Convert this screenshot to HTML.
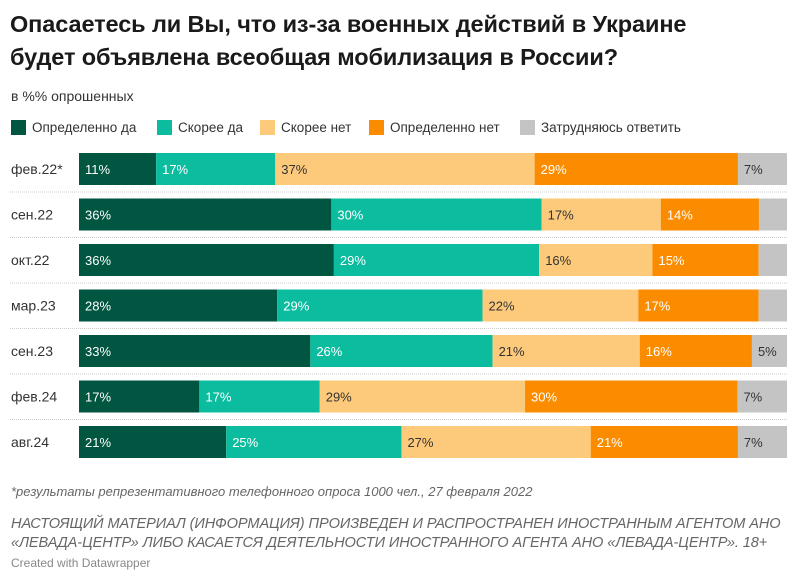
<!DOCTYPE html>
<html><head><meta charset="utf-8"><style>
body{margin:0;background:#fff;width:800px;height:584px;overflow:hidden;font-family:"Liberation Sans",sans-serif;color:#222}
.t{position:absolute;left:10px;top:8px;font-size:23.5px;font-weight:bold;line-height:33px;letter-spacing:-0.1px;color:#1a1a1a}
.s{position:absolute;left:11px;top:88px;font-size:14px;color:#333}
.lg{position:absolute;top:120px;font-size:13.5px;display:flex;align-items:center;color:#333}
.lg i{display:inline-block;width:15px;height:15px;margin-right:6px}
.f{position:absolute;left:11px;font-style:italic;color:#666;font-size:13px}
</style></head><body>
<div class="t">Опасаетесь ли Вы, что из-за военных действий в Украине<br>будет объявлена всеобщая мобилизация в России?</div>
<div class="s">в %% опрошенных</div>
<div class="lg" style="left:11px"><i style="background:#015641"></i>Определенно да</div>
<div class="lg" style="left:157px"><i style="background:#0cbc9f"></i>Скорее да</div>
<div class="lg" style="left:260px"><i style="background:#fdc97a"></i>Скорее нет</div>
<div class="lg" style="left:369px"><i style="background:#fb8c00"></i>Определенно нет</div>
<div class="lg" style="left:520px"><i style="background:#c4c4c4"></i>Затрудняюсь ответить</div>
<svg id="c" width="800" height="584" style="position:absolute;left:0;top:0"></svg>
<div class="f" style="top:484px">*результаты репрезентативного телефонного опроса 1000 чел., 27 февраля 2022</div>
<div class="f" style="top:515px;line-height:19px;font-size:14.6px;letter-spacing:-0.1px;white-space:nowrap">НАСТОЯЩИЙ МАТЕРИАЛ (ИНФОРМАЦИЯ) ПРОИЗВЕДЕН И РАСПРОСТРАНЕН ИНОСТРАННЫМ АГЕНТОМ АНО<br>«ЛЕВАДА-ЦЕНТР» ЛИБО КАСАЕТСЯ ДЕЯТЕЛЬНОСТИ ИНОСТРАННОГО АГЕНТА АНО «ЛЕВАДА-ЦЕНТР». 18+</div>
<div class="f" style="top:556px;font-style:normal;font-size:12px;color:#888">Created with Datawrapper</div>
<script>
const categories=["фев.22*","сен.22","окт.22","мар.23","сен.23","фев.24","авг.24"];
const defYes=[11,36,36,28,33,17,21];
const ratherYes=[17,30,29,29,26,17,25];
const ratherNo=[37,17,16,22,21,29,27];
const defNo=[29,14,15,17,16,30,21];
const unsure=[7,4,4,4,5,7,7];
const showUnsure=[true,false,false,false,true,true,true];
const series=[defYes,ratherYes,ratherNo,defNo,unsure];
const colors=["#015641","#0cbc9f","#fdc97a","#fb8c00","#c4c4c4"];
const txt=["#fff","#fff","#333","#fff","#333"];
const svg=document.getElementById('c');const NS="http://www.w3.org/2000/svg";
const x0=79,W=708,y0=153,step=45.5,bh=32;
function xs(v,tot){return v/tot*W}
function yb(i){return y0+i*step}
categories.forEach((cat,i)=>{
  const t=document.createElementNS(NS,'text');t.setAttribute('x',11);t.setAttribute('y',yb(i)+bh/2+5);t.setAttribute('font-size','14');t.setAttribute('fill','#333');t.setAttribute('font-family','Liberation Sans');t.textContent=cat;
  
  
  svg.appendChild(t);
  if(i<categories.length-1){const l=document.createElementNS(NS,'line');l.setAttribute('x1',10);l.setAttribute('x2',787);l.setAttribute('y1',yb(i)+bh+7);l.setAttribute('y2',yb(i)+bh+7);l.setAttribute('stroke','#ccc');l.setAttribute('stroke-dasharray','1,1');
  
  
  svg.appendChild(l);}
  let tot=0;series.forEach(s=>tot+=s[i]);
  let acc=0;
  series.forEach((s,k)=>{
    const r=document.createElementNS(NS,'rect');r.setAttribute('x',x0+xs(acc,tot));r.setAttribute('y',yb(i));r.setAttribute('width',xs(s[i],tot));r.setAttribute('height',bh);r.setAttribute('fill',colors[k]);
    
    
    svg.appendChild(r);
    if(k<4||showUnsure[i]){const v=document.createElementNS(NS,'text');v.setAttribute('x',x0+xs(acc,tot)+6);v.setAttribute('y',yb(i)+bh/2+5);v.setAttribute('font-size','13');v.setAttribute('fill',txt[k]);v.setAttribute('font-family','Liberation Sans');v.textContent=s[i]+'%';
    
    
    svg.appendChild(v);}
    acc+=s[i];
  });
});
</script>
</body></html>
